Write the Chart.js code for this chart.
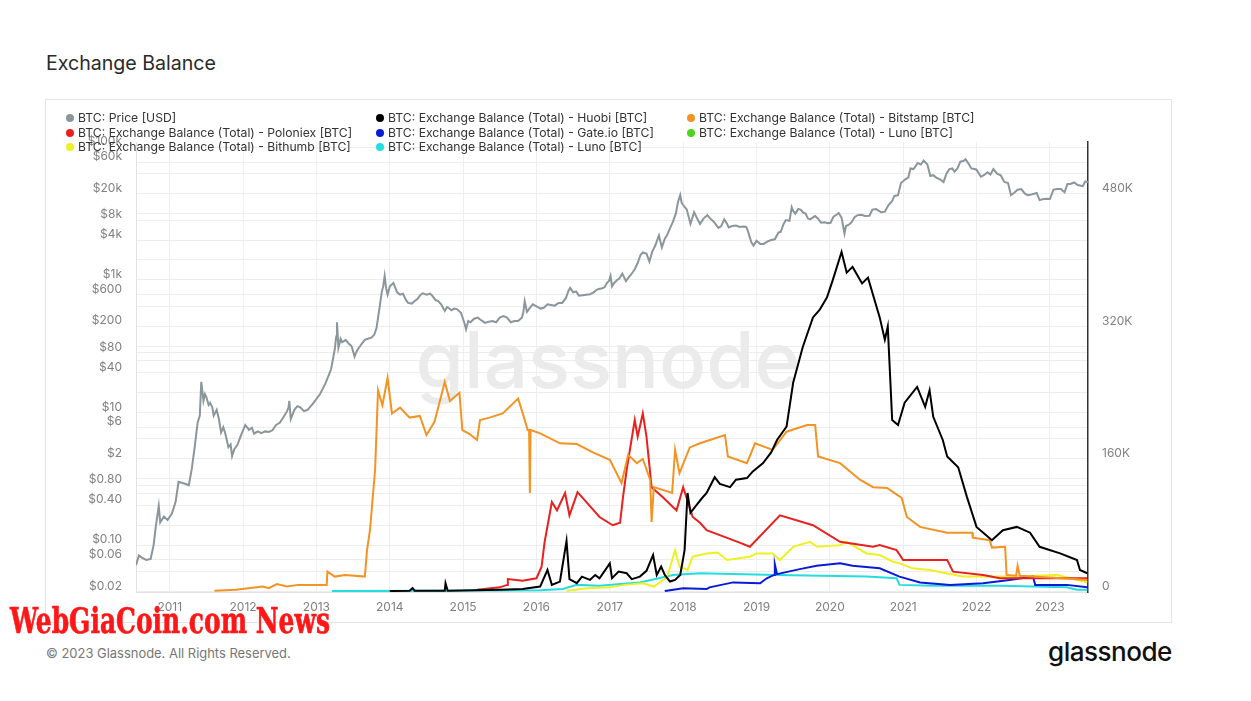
<!DOCTYPE html>
<html>
<head>
<meta charset="utf-8">
<script src="https://cdn.jsdelivr.net/npm/chart.js@4.4.0/dist/chart.umd.min.js"></script>
<style>
  body { margin:0; width:1251px; height:701px; background:#fff; position:relative; overflow:hidden; font-family:Inter, "Noto Sans", sans-serif; }
  #title { position:absolute; left:46px; top:51px; font-size:19px; color:#2a2a2a; white-space:nowrap; }
  #card { position:absolute; left:45px; top:99px; width:1125px; height:522px; border:1px solid #e4e4e4; }
  #chart { position:absolute; left:0; top:0; }
  #legend { position:absolute; left:0; top:0; }
  .item { position:absolute; font-size:12.2px; color:#333; white-space:nowrap; line-height:14px; }
  .dot { position:absolute; left:-12px; top:3px; width:8px; height:8px; border-radius:50%; }
  #footer { position:absolute; left:46px; top:645px; font-size:13px; color:#777; white-space:nowrap; }
  #logo { position:absolute; left:1048px; top:636px; font-size:26px; font-weight:500; color:#111; white-space:nowrap; letter-spacing:-0.5px; }
  #stamp { position:absolute; left:10px; top:600px; font-family:"DejaVu Serif Condensed","DejaVu Serif",serif; font-weight:bold; font-size:35px; color:#ff1717; white-space:nowrap; transform-origin:0 0; -webkit-text-stroke:0.6px #ff1717; }
</style>
</head>
<body>
<div id="title">Exchange Balance</div>
<div id="card">
  <canvas id="chart" width="1125" height="522"></canvas>
  <div id="legend"></div>
</div>
<div id="footer">© 2023 Glassnode. All Rights Reserved.</div>
<div id="logo">glassnode</div>
<div id="stamp">WebGiaCoin.com News</div>

<script>
// BTC price [USD], [year, price]
const priceSeries = [
  [2010.54,0.05],[2010.58,0.07],[2010.62,0.065],[2010.68,0.06],[2010.74,0.062],[2010.78,0.1],[2010.81,0.19],
  [2010.85,0.39],[2010.87,0.22],[2010.92,0.27],[2010.97,0.24],[2011.03,0.3],[2011.08,0.45],[2011.12,0.9],
  [2011.20,0.85],[2011.26,0.8],[2011.30,1.4],[2011.34,3],[2011.38,7],[2011.41,9],[2011.43,29],[2011.46,15],
  [2011.48,19],[2011.50,17],[2011.53,13],[2011.55,14],[2011.58,12],[2011.60,9],[2011.64,11],[2011.67,8],[2011.70,5],
  [2011.73,6],[2011.76,4.7],[2011.80,3],[2011.83,3.3],[2011.85,2.2],[2011.88,2.8],[2011.92,3.2],[2011.97,4.5],
  [2012.03,6.5],[2012.08,5.5],[2012.12,5.9],[2012.15,4.8],[2012.20,5.2],[2012.25,4.9],[2012.30,5.2],[2012.35,5.1],
  [2012.40,5.4],[2012.45,6.5],[2012.50,7],[2012.55,8.5],[2012.60,10.5],[2012.62,12],[2012.63,15],[2012.65,8],
  [2012.70,11],[2012.74,12.5],[2012.78,12],[2012.83,10.5],[2012.88,11],[2012.95,13.5],[2013.05,19],[2013.12,27],
  [2013.20,45],[2013.25,90],[2013.27,140],[2013.28,230],[2013.30,95],[2013.33,130],[2013.35,115],[2013.40,125],
  [2013.44,110],[2013.48,100],[2013.52,70],[2013.55,85],[2013.58,95],[2013.62,110],[2013.66,125],[2013.70,130],
  [2013.75,135],[2013.79,150],[2013.82,190],[2013.86,380],[2013.89,650],[2013.91,800],[2013.93,1150],[2013.95,750],
  [2013.97,600],[2014.00,800],[2014.05,900],[2014.10,650],[2014.14,600],[2014.18,620],[2014.22,500],[2014.25,450],
  [2014.30,440],[2014.34,480],[2014.38,520],[2014.42,600],[2014.45,630],[2014.50,600],[2014.55,620],[2014.58,580],
  [2014.62,500],[2014.66,480],[2014.70,430],[2014.75,340],[2014.78,390],[2014.80,380],[2014.84,350],[2014.88,370],
  [2014.92,360],[2014.97,320],[2015.02,220],[2015.04,180],[2015.07,240],[2015.10,230],[2015.15,260],[2015.20,270],
  [2015.25,245],[2015.30,225],[2015.35,235],[2015.40,240],[2015.45,230],[2015.50,270],[2015.55,285],[2015.60,270],
  [2015.65,230],[2015.70,240],[2015.75,240],[2015.80,270],[2015.82,320],[2015.84,480],[2015.87,330],[2015.91,380],
  [2015.95,430],[2016.02,390],[2016.06,370],[2016.10,380],[2016.15,430],[2016.20,420],[2016.25,410],[2016.30,450],
  [2016.35,450],[2016.40,530],[2016.44,700],[2016.46,760],[2016.50,650],[2016.54,670],[2016.58,580],[2016.63,590],
  [2016.68,600],[2016.73,610],[2016.78,650],[2016.82,710],[2016.85,730],[2016.90,750],[2016.93,780],[2016.96,900],
  [2016.99,970],[2017.01,1150],[2017.03,800],[2017.06,900],[2017.10,1000],[2017.13,1050],[2017.17,1250],[2017.22,960],
  [2017.26,1100],[2017.30,1250],[2017.34,1450],[2017.38,1800],[2017.42,2400],[2017.45,2600],[2017.50,2500],
  [2017.54,1900],[2017.58,2700],[2017.62,3300],[2017.67,4700],[2017.71,3100],[2017.75,4200],[2017.78,4700],
  [2017.82,6000],[2017.86,7500],[2017.90,10000],[2017.93,15000],[2017.96,19000],[2017.98,14500],[2018.00,13500],
  [2018.05,11500],[2018.10,7000],[2018.15,10500],[2018.19,8500],[2018.23,7000],[2018.28,8500],[2018.33,9500],
  [2018.38,8200],[2018.42,7500],[2018.48,6100],[2018.52,6500],[2018.56,8200],[2018.60,7000],[2018.62,6200],
  [2018.67,6500],[2018.72,6600],[2018.77,6300],[2018.82,6400],[2018.86,6300],[2018.88,5600],[2018.93,3700],
  [2018.96,3300],[2019.00,3900],[2019.05,3500],[2019.10,3500],[2019.15,3800],[2019.20,4000],[2019.25,4100],
  [2019.30,5200],[2019.33,5300],[2019.37,7000],[2019.40,8000],[2019.45,7800],[2019.48,12500],[2019.50,11000],
  [2019.53,10000],[2019.57,11800],[2019.60,11500],[2019.64,10300],[2019.67,10000],[2019.70,8500],[2019.73,8200],
  [2019.80,9200],[2019.84,8400],[2019.88,7300],[2019.93,7400],[2019.97,7200],[2020.01,7300],[2020.05,9000],
  [2020.10,9800],[2020.12,10200],[2020.16,8700],[2020.20,5000],[2020.22,6500],[2020.26,6800],[2020.30,7500],
  [2020.34,8900],[2020.38,9500],[2020.43,9600],[2020.48,9200],[2020.54,9300],[2020.58,11500],[2020.63,11700],
  [2020.70,10500],[2020.75,10700],[2020.80,13500],[2020.85,15500],[2020.88,18500],[2020.93,19000],[2020.97,29000],
  [2021.03,33000],[2021.07,35000],[2021.10,48000],[2021.14,47000],[2021.20,58000],[2021.24,55000],[2021.28,63000],
  [2021.33,55000],[2021.37,37000],[2021.41,38000],[2021.45,35000],[2021.50,33000],[2021.55,30000],[2021.59,40000],
  [2021.63,47000],[2021.67,48000],[2021.70,43000],[2021.74,48000],[2021.78,61000],[2021.82,62000],[2021.85,66000],
  [2021.89,57000],[2021.93,48000],[2021.97,47000],[2022.00,46000],[2022.06,36000],[2022.10,38000],[2022.15,42000],
  [2022.19,39000],[2022.23,47000],[2022.28,40000],[2022.33,38000],[2022.38,30000],[2022.43,29000],[2022.47,19000],
  [2022.51,20500],[2022.56,23000],[2022.61,23500],[2022.66,20000],[2022.70,19000],[2022.75,19500],[2022.82,20500],
  [2022.86,16000],[2022.90,16500],[2022.95,16800],[2023.00,16600],[2023.05,23000],[2023.10,23500],[2023.15,23500],
  [2023.20,21000],[2023.24,28000],[2023.28,28000],[2023.33,29500],[2023.38,27000],[2023.45,26000],[2023.48,30500],
  [2023.52,30000]
];

// exchange balances, [year, thousand BTC]
const huobi = [
  [2014.00,0.5],[2014.27,1],[2014.31,4],[2014.34,1],[2014.75,1],[2014.76,10],[2014.79,1],[2015.50,2],[2015.81,3],
  [2016.05,6],[2016.15,26],[2016.21,8],[2016.32,12],[2016.41,61],[2016.45,15],[2016.55,10],[2016.62,18],[2016.73,14],
  [2016.80,20],[2016.86,16],[2017.00,34],[2017.03,16],[2017.12,24],[2017.23,22],[2017.30,15],[2017.41,18],[2017.50,25],
  [2017.59,44],[2017.64,20],[2017.70,30],[2017.75,20],[2017.82,12],[2017.89,14],[2017.96,20],
  [2018.02,50],[2018.06,119],[2018.10,95],[2018.16,102],[2018.25,112],[2018.32,119],[2018.43,138],[2018.50,130],[2018.64,126],
  [2018.72,135],[2018.87,137],[2018.95,145],[2019.09,155],[2019.20,168],
  [2019.28,183],[2019.41,199],[2019.50,252],[2019.63,295],[2019.77,331],[2019.86,340],[2019.96,355],[2020.04,376],[2020.16,410],
  [2020.23,385],[2020.31,392],[2020.44,372],[2020.52,379],[2020.68,331],[2020.75,304],[2020.79,320],[2020.85,207],
  [2020.93,201],[2021.02,228],[2021.19,247],[2021.30,223],[2021.36,243],[2021.41,211],[2021.54,183],[2021.60,163],
  [2021.75,150],[2021.87,114],[2022.00,78],[2022.21,62],[2022.36,74],[2022.55,78],[2022.73,71],[2022.86,54],
  [2023.14,46],[2023.37,38],[2023.41,26],[2023.51,22]
];
const bitstamp = [
  [2011.61,1],[2011.90,2],[2012.27,6],[2012.35,4],[2012.46,9],[2012.60,6],[2012.75,8],[2012.91,8],[2013.14,8],[2013.15,24],
  [2013.25,18],[2013.39,20],[2013.66,18],[2013.69,50],
  [2013.73,74],[2013.80,147],[2013.84,243],[2013.90,225],[2013.97,258],[2014.03,215],[2014.14,222],[2014.27,210],[2014.41,212],
  [2014.50,189],[2014.61,205],[2014.75,253],[2014.82,230],[2014.95,240],[2014.99,195],[2015.09,190],[2015.19,183],
  [2015.23,207],[2015.36,210],[2015.54,215],[2015.75,233],[2015.81,216],[2015.88,195],[2015.90,195],[2015.91,119],
  [2015.92,195],[2016.05,191],[2016.32,179],[2016.55,178],[2016.77,168],[2017.00,159],[2017.16,131],[2017.25,165],
  [2017.37,155],[2017.45,160],[2017.55,135],[2017.57,84],[2017.60,126],[2017.85,119],[2017.89,171],[2017.95,143],
  [2018.09,174],[2018.23,179],[2018.57,189],[2018.61,163],[2018.87,155],[2018.98,179],[2019.22,171],[2019.41,193],
  [2019.69,201],[2019.80,201],[2019.84,163],[2020.14,155],[2020.41,135],[2020.59,126],[2020.78,125],[2020.98,113],
  [2021.05,90],[2021.23,78],[2021.60,71],[2021.94,71],[2021.95,65],[2022.18,62],[2022.21,53],[2022.39,54],
  [2022.41,20],[2022.54,19],[2022.56,31],[2022.59,19],[2023.00,17],[2023.51,14]
];
const poloniex = [
  [2015.19,2],[2015.50,5],[2015.60,8],[2015.61,15],[2015.81,13],[2016.00,16],[2016.07,30],[2016.11,59],[2016.21,108],
  [2016.28,98],[2016.39,119],[2016.45,92],[2016.56,120],[2016.69,107],[2016.86,90],[2017.04,80],[2017.14,83],
  [2017.18,114],[2017.23,147],[2017.34,207],[2017.38,187],[2017.45,215],[2017.50,187],[2017.57,126],[2017.72,114],
  [2017.86,102],[2017.91,98],[2018.00,126],[2018.13,90],[2018.23,83],[2018.32,74],[2018.77,59],[2018.91,54],
  [2019.32,92],[2019.77,80],[2020.14,60],[2020.59,54],[2020.68,56],[2020.91,50],[2021.00,38],[2021.60,38],
  [2021.68,24],[2022.09,20],[2022.32,16],[2023.51,16]
];
const gateio = [
  [2017.75,0.5],[2018.00,4],[2018.32,3],[2018.36,5],[2018.68,11],[2019.05,10],[2019.14,16],[2019.24,20],[2019.25,33],
  [2019.28,21],[2019.59,27],[2019.82,31],[2020.14,34],[2020.31,31],[2020.68,28],[2020.95,18],[2021.23,11],
  [2021.64,8],[2022.09,10],[2022.45,14],[2022.77,18],[2022.80,8],[2023.23,8],[2023.51,5]
];
const lunoGreen = [];
const bithumb = [
  [2016.41,1],[2016.70,4],[2017.00,5],[2017.20,8],[2017.45,10],[2017.60,6],[2017.78,17],[2017.89,50],[2017.95,30],[2018.06,26],[2018.13,42],[2018.32,46],
  [2018.47,47],[2018.60,38],[2018.91,42],[2019.00,46],[2019.22,46],[2019.32,38],[2019.50,54],[2019.73,60],
  [2019.83,54],[2020.14,56],[2020.23,60],[2020.50,46],[2020.68,44],[2020.86,36],[2020.95,34],[2021.13,28],
  [2021.36,26],[2021.81,18],[2022.50,18],[2023.10,20],[2023.51,11]
];
const lunoCyan = [
  [2013.21,0.5],[2014.82,0.8],[2016.05,1.5],[2016.36,3],[2016.55,8],[2016.86,7],[2017.27,10],[2017.41,11],
  [2017.86,20],[2018.23,22],[2019.28,20],[2020.50,18],[2020.91,16],[2020.95,8],[2021.41,7],[2022.32,7],
  [2023.23,5],[2023.37,2],[2023.51,2]
];

const seriesNames = [
  'BTC: Price [USD]',
  'BTC: Exchange Balance (Total) - Huobi [BTC]',
  'BTC: Exchange Balance (Total) - Bitstamp [BTC]',
  'BTC: Exchange Balance (Total) - Poloniex [BTC]',
  'BTC: Exchange Balance (Total) - Gate.io [BTC]',
  'BTC: Exchange Balance (Total) - Luno [BTC]',
  'BTC: Exchange Balance (Total) - Bithumb [BTC]',
  'BTC: Exchange Balance (Total) - Luno [BTC]'
];
const seriesColors = ['#8a969b','#000000','#f39324','#e8201f','#0a1bd6','#4fd41c','#eef022','#25dcdf'];
const seriesData = [priceSeries, huobi, bitstamp, poloniex, gateio, lunoGreen, bithumb, lunoCyan];

const yearTicks = [2011,2012,2013,2014,2015,2016,2017,2018,2019,2020,2021,2022,2023];
const priceTickValues = [0.02,0.06,0.1,0.4,0.8,2,6,10,40,80,200,600,1000,4000,8000,20000,60000,100000];
const priceTickLabels = ['$0.02','$0.06','$0.10','$0.40','$0.80','$2','$6','$10','$40','$80','$200','$600','$1k','$4k','$8k','$20k','$60k','$100k'];
const priceGridValues = [0.02,0.04,0.06,0.1,0.2,0.4,0.6,0.8,1,2,4,6,10,20,40,60,80,100,200,400,600,1000,2000,4000,8000,10000,20000,40000,60000,100000];
const balanceTickValues = [0,160,320,480];
const balanceTickLabels = ['0','160K','320K','480K'];

// legend (3 columns, row-major)
const legendCols = [32, 342, 653];
const legendRows = [11, 25.5, 40];
const legend = document.getElementById('legend');
seriesNames.forEach((name, i) => {
  const it = document.createElement('div');
  it.className = 'item';
  it.style.left = legendCols[i % 3] + 'px';
  it.style.top = legendRows[Math.floor(i / 3)] + 'px';
  it.innerHTML = '<span class="dot" style="background:' + seriesColors[i] + '"></span>' + name;
  legend.appendChild(it);
});

function fitWidth(id, w) {
  const el = document.getElementById(id);
  const r = w / el.getBoundingClientRect().width;
  el.style.fontSize = (parseFloat(getComputedStyle(el).fontSize) * r) + 'px';
}
fitWidth('title', 170);
fitWidth('footer', 245);
fitWidth('logo', 124);
const stamp = document.getElementById('stamp');
stamp.style.transform = 'scaleX(' + (320 / stamp.getBoundingClientRect().width) + ')';

const watermark = {
  id: 'watermark',
  beforeDatasetsDraw(chart) {
    const c = chart.ctx;
    c.save();
    c.font = '500 100px Inter';
    const size = 100 * 385 / c.measureText('glassnode').width;
    c.font = '500 ' + size + 'px Inter';
    c.fillStyle = '#ebebeb';
    c.textAlign = 'center';
    c.fillText('glassnode', 562, 288);
    c.restore();
  }
};

Chart.defaults.font.family = 'Inter';
Chart.defaults.font.size = 12;
Chart.defaults.color = '#808080';

new Chart(document.getElementById('chart'), {
  type: 'line',
  data: {
    datasets: seriesData.map((s, i) => ({
      label: seriesNames[i],
      data: s.map(p => ({ x: p[0], y: p[1] })),
      borderColor: seriesColors[i],
      backgroundColor: seriesColors[i],
      borderWidth: 2,
      pointRadius: 0,
      tension: 0,
      yAxisID: i === 0 ? 'y' : 'y1'
    }))
  },
  options: {
    responsive: false,
    animation: false,
    layout: { padding: { top: 42, left: 0, right: 0, bottom: 0 } },
    plugins: { legend: { display: false }, tooltip: { enabled: false } },
    scales: {
      x: {
        type: 'linear', min: 2010.54, max: 2023.52,
        afterBuildTicks: a => { a.ticks = yearTicks.map(v => ({ value: v })); },
        afterFit: a => { a.height = 30; },
        ticks: { callback: v => String(v), padding: 8, autoSkip: false, maxRotation: 0 },
        grid: { color: '#efefef', drawTicks: false },
        border: { color: '#e2e2e2' }
      },
      y: {
        type: 'logarithmic', position: 'left', min: 0.01966, max: 120400,
        afterBuildTicks: a => { a.ticks = priceGridValues.map(v => ({ value: v })); },
        afterFit: a => { a.width = 90; },
        ticks: {
          callback: v => { const k = priceTickValues.indexOf(v); return k < 0 ? '' : priceTickLabels[k]; },
          padding: 14, labelOffset: -5.5, autoSkip: false
        },
        grid: { color: '#ededed', drawTicks: false },
        border: { color: '#e2e2e2' }
      },
      y1: {
        type: 'linear', position: 'right', min: -0.6, max: 542.8,
        afterBuildTicks: a => { a.ticks = balanceTickValues.map(v => ({ value: v })); },
        afterFit: a => { a.width = 83; },
        ticks: {
          callback: v => { const k = balanceTickValues.indexOf(v); return k < 0 ? '' : balanceTickLabels[k]; },
          padding: 14, labelOffset: -5.5, autoSkip: false
        },
        grid: { display: false, drawTicks: false },
        border: { color: '#333333', width: 1.5 }
      }
    }
  },
  plugins: [watermark]
});
</script>
</body>
</html>
